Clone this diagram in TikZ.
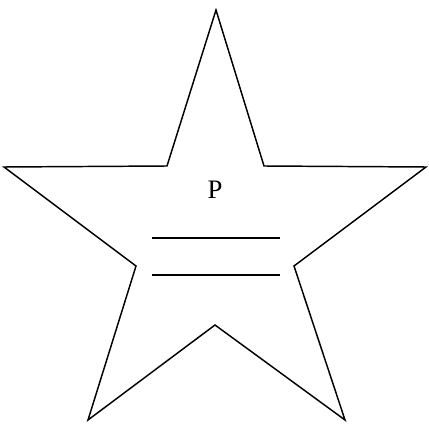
\documentclass[tikz,border=0pt]{standalone}
\usepackage{fontspec}
\setmainfont{Liberation Serif}
\tikzset{
  every picture/.style={line join=miter, line cap=butt},
  starline/.style={line width=1.1pt},
  blank/.style={line width=0.8pt},
}
\begin{document}
\begin{tikzpicture}[x=0.75pt,y=-0.75pt]
\useasboundingbox (0,0) rectangle (429,424);
% star outline
\draw[starline] (216,10) -- (264,166) -- (426,167) -- (294,266) -- (345,420)
  -- (215,325) -- (88,420) -- (136,266) -- (4,167) -- (167,166) -- cycle;
\node[font=\fontsize{20}{24}\selectfont] (lbl) at (215,190) {P};
% answer lines
\coordinate (a1) at (152,238); \coordinate (b1) at (280,238);
\coordinate (a2) at (152,275); \coordinate (b2) at (280,275);
\draw[blank] (a1) -- (b1);
\draw[blank] (a2) -- (b2);
\end{tikzpicture}
\end{document}
